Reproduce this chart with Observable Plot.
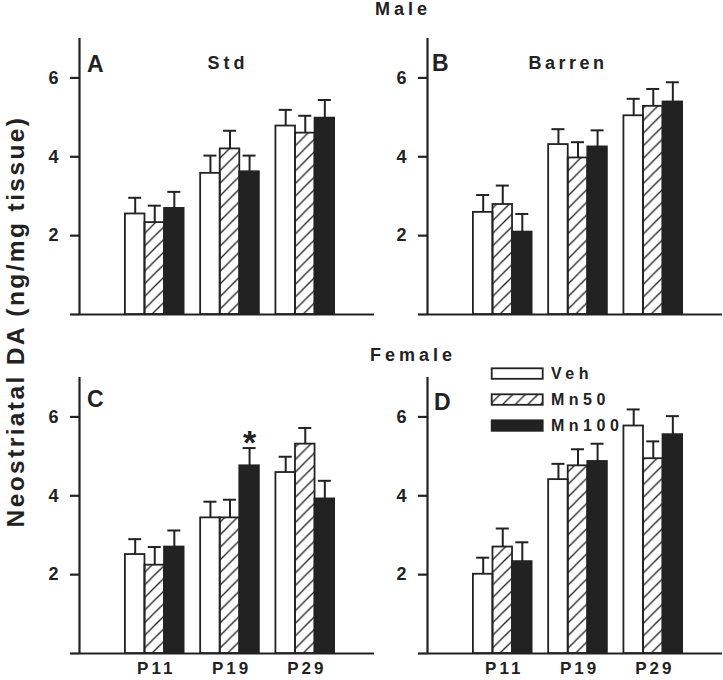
<!DOCTYPE html>
<html>
<head>
<meta charset="utf-8">
<script src="https://cdn.jsdelivr.net/npm/d3@7"></script>
<script src="https://cdn.jsdelivr.net/npm/@observablehq/plot@0.6"></script>
<style>
  html, body { margin: 0; padding: 0; background: white; }
  #chart { position: relative; width: 723px; height: 680px; background: white; overflow: hidden; }
  .panel { position: absolute; }
  #overlay { position: absolute; left: 0; top: 0; pointer-events: none; }
</style>
</head>
<body>
<svg width="0" height="0" style="position:absolute">
  <defs>
    <pattern id="hatch" patternUnits="userSpaceOnUse" width="12.6" height="12.6">
      <line x1="0" y1="12.6" x2="12.6" y2="0" stroke="#222" stroke-width="1.3"/>
      <line x1="-2" y1="2" x2="2" y2="-2" stroke="#222" stroke-width="1.3"/>
      <line x1="10.6" y1="14.6" x2="14.6" y2="10.6" stroke="#222" stroke-width="1.3"/>
    </pattern>
  </defs>
</svg>
<div id="chart"></div>
<script>
// ---- data (ng/mg tissue), order: P11 Veh, Mn50, Mn100, P19 Veh, Mn50, Mn100, P29 Veh, Mn50, Mn100
const ages = ["P11", "P19", "P29"];
const treatments = ["Veh", "Mn50", "Mn100"];
const yTicks = [0, 2, 4, 6];

const maleStdMean = [2.55, 2.33, 2.69, 3.58, 4.20, 3.62, 4.78, 4.60, 4.98];
const maleStdSem = [0.41, 0.43, 0.42, 0.45, 0.46, 0.41, 0.41, 0.44, 0.46];
const maleStdSig = ["", "", "", "", "", "", "", "", ""];

const maleBarrenMean = [2.59, 2.79, 2.09, 4.31, 3.97, 4.25, 5.04, 5.28, 5.39];
const maleBarrenSem = [0.44, 0.48, 0.46, 0.39, 0.40, 0.42, 0.43, 0.44, 0.50];
const maleBarrenSig = ["", "", "", "", "", "", "", "", ""];

const femaleStdMean = [2.51, 2.24, 2.70, 3.44, 3.44, 4.76, 4.59, 5.31, 3.92];
const femaleStdSem = [0.39, 0.46, 0.42, 0.41, 0.46, 0.45, 0.40, 0.41, 0.46];
const femaleStdSig = ["", "", "", "", "", "*", "", "", ""];

const femaleBarrenMean = [2.01, 2.70, 2.33, 4.41, 4.76, 4.87, 5.77, 4.94, 5.55];
const femaleBarrenSem = [0.42, 0.47, 0.49, 0.40, 0.42, 0.45, 0.42, 0.44, 0.47];
const femaleBarrenSig = ["", "", "", "", "", "", "", "", ""];

const BW = 0.26; // bar width in x units (group spacing = 1)
const INK = "#222";
const FONT = "'Liberation Sans', Arial, Helvetica, sans-serif";
const fills = {Veh: "white", Mn50: "url(#hatch)", Mn100: INK};

function rowsFor(means, sems, sigs) {
  const rows = [];
  ages.forEach((age, ai) => treatments.forEach((t, ti) => {
    const k = ai * 3 + ti;
    rows.push({age, treatment: t, ai, ti, mean: means[k], sem: sems[k], sig: sigs[k]});
  }));
  return rows;
}
const left = d => d.ai + 1 + (d.ti - 1.5) * BW;
const right = d => left(d) + BW;
const mid = d => left(d) + BW / 2;

function panel(means, sems, sigs, showX, width, marginRight) {
  const rows = rowsFor(means, sems, sigs);
  const marks = [
    Plot.axisY({ticks: yTicks, tickSize: 9, tickPadding: 12, tickFormat: d => d === 0 ? "" : d,
      strokeWidth: 2.2, stroke: INK, fill: INK, fontSize: 18, fontWeight: "bold", label: null}),
    Plot.ruleX([0], {y1: 0, y2: 7, strokeWidth: 2.2, stroke: INK}),
    Plot.ruleY([0], {strokeWidth: 2.2, stroke: INK}),
    ...treatments.map(t => Plot.rect(rows.filter(d => d.treatment === t), {
      x1: left, x2: right, y1: 0, y2: "mean", fill: fills[t], stroke: INK, strokeWidth: 1.8
    })),
    Plot.ruleX(rows, {x: mid, y1: "mean", y2: d => d.mean + d.sem, stroke: INK, strokeWidth: 2}),
    Plot.ruleY(rows, {x1: mid, x2: mid, y: d => d.mean + d.sem, insetLeft: -6.5, insetRight: -6.5, stroke: INK, strokeWidth: 2}),
    Plot.text(rows.filter(d => d.sig), {x: mid, y: d => d.mean + d.sem, text: "sig", fontSize: 34,
      fontWeight: "bold", fill: INK, dy: -5})
  ];
  if (showX) {
    marks.push(Plot.axisX({ticks: [1, 2, 3], tickFormat: i => ages[i - 1], tickSize: 0, tickPadding: 8,
      fontSize: 17, fontWeight: "bold", fill: INK, label: null}));
  }
  const svg = Plot.plot({
    width, height: 341,
    marginLeft: 79, marginRight, marginTop: 38, marginBottom: 27,
    x: {domain: [0, 3.92], axis: showX ? undefined : null},
    y: {domain: [0, 7]},
    style: {background: "transparent", fontFamily: FONT, color: INK, overflow: "visible"},
    marks
  });
  svg.querySelectorAll('[aria-label="x-axis tick label"] text').forEach(t => {
    t.style.letterSpacing = "3px";
    t.setAttribute("dx", "1.5");
  });
  return svg;
}

const chart = document.getElementById("chart");
function place(svg, x, y) {
  const div = document.createElement("div");
  div.className = "panel";
  div.style.left = x + "px";
  div.style.top = y + "px";
  div.appendChild(svg);
  chart.appendChild(div);
}
place(panel(maleStdMean, maleStdSem, maleStdSig, false, 380, 6), 0, 0);
place(panel(maleBarrenMean, maleBarrenSem, maleBarrenSig, false, 375, 1), 348, 0);
place(panel(femaleStdMean, femaleStdSem, femaleStdSig, true, 380, 6), 0, 339);
place(panel(femaleBarrenMean, femaleBarrenSem, femaleBarrenSig, true, 375, 1), 348, 339);

// ---- annotations & legend overlay
const ns = "http://www.w3.org/2000/svg";
const ov = document.createElementNS(ns, "svg");
ov.setAttribute("id", "overlay");
ov.setAttribute("width", 723);
ov.setAttribute("height", 680);
chart.appendChild(ov);
function txt(s, x, y, size, opts = {}) {
  const t = document.createElementNS(ns, "text");
  t.textContent = s;
  t.setAttribute("x", x);
  t.setAttribute("y", y);
  t.setAttribute("font-family", FONT);
  t.setAttribute("font-weight", "bold");
  t.setAttribute("font-size", size);
  t.setAttribute("fill", INK);
  if (opts.anchor) t.setAttribute("text-anchor", opts.anchor);
  if (opts.ls) t.style.letterSpacing = opts.ls + "px";
  if (opts.transform) t.setAttribute("transform", opts.transform);
  ov.appendChild(t);
}
txt("Male", 403, 15, 18, {anchor: "middle", ls: 4});
txt("Female", 413, 361, 18, {anchor: "middle", ls: 4});
txt("A", 87, 71.5, 23);
txt("B", 432, 71, 23);
txt("C", 87, 407, 23);
txt("D", 434, 410, 23);
txt("Std", 228, 69, 18, {anchor: "middle", ls: 4});
txt("Barren", 568, 69, 18, {anchor: "middle", ls: 3.5});
txt("Neostriatal DA (ng/mg tissue)", 0, 0, 24.5, {anchor: "middle", ls: 2.4, transform: "translate(23.5,321.5) rotate(-90)"});

const legendY = [368.3, 394.3, 420.3];
treatments.forEach((t, i) => {
  const r = document.createElementNS(ns, "rect");
  r.setAttribute("x", 491.7);
  r.setAttribute("y", legendY[i]);
  r.setAttribute("width", 51);
  r.setAttribute("height", 10.5);
  r.setAttribute("fill", fills[t]);
  r.setAttribute("stroke", INK);
  r.setAttribute("stroke-width", 1.8);
  ov.appendChild(r);
  txt(t, 551, legendY[i] + 11, 16, {ls: 4.5});
});
</script>
</body>
</html>
